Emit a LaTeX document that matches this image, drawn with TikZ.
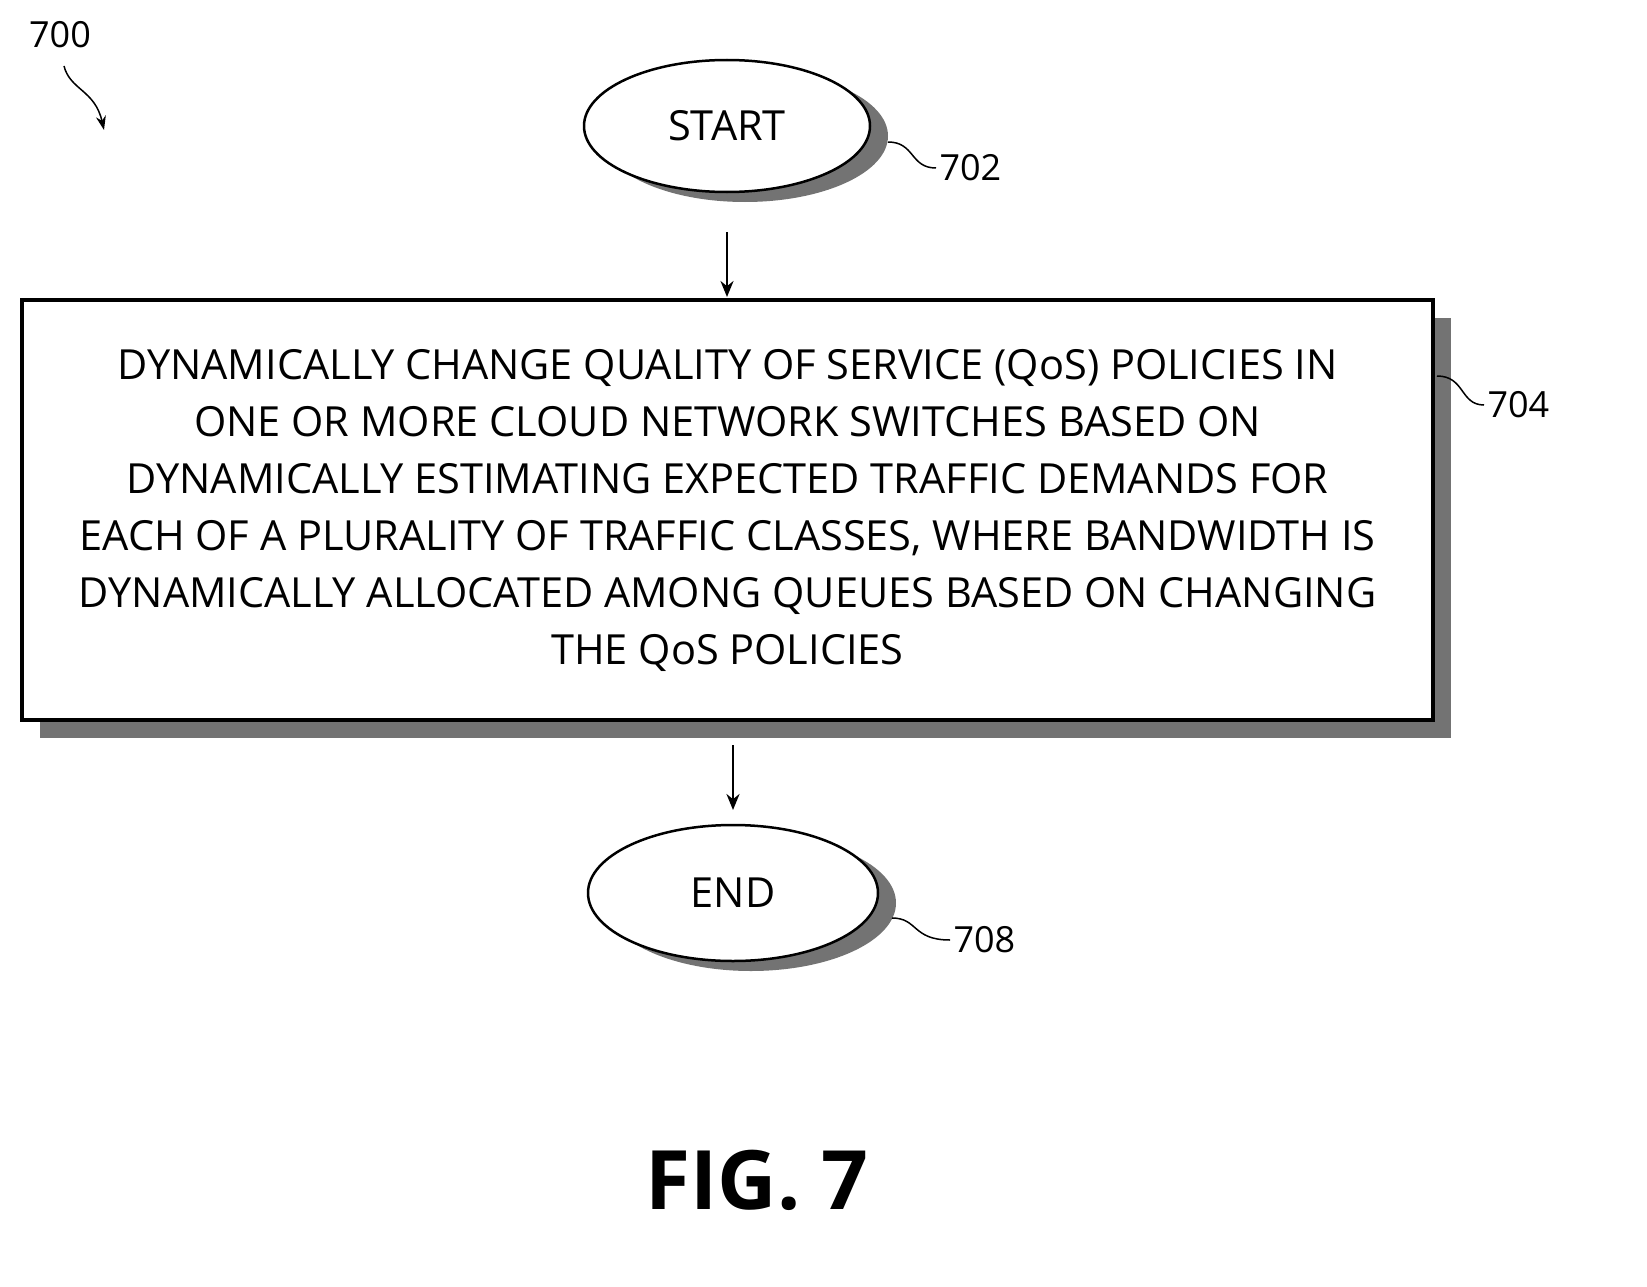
\documentclass[tikz,border=0pt]{standalone}
\usepackage{fontspec}
\setmainfont{Open Sans}
\usetikzlibrary{shapes.geometric,arrows.meta}
\begin{document}
\begin{tikzpicture}[x=1pt,y=-1pt,
  lbl/.style={font=\fontsize{36}{40}\selectfont},
  main/.style={font=\fontsize{41.5}{57}\selectfont},
  conn/.style={line width=2.5pt,-{Stealth[length=16pt,width=13pt]}},
  lead/.style={line width=1.5pt},
  shadow/.style={fill=black!55,draw=none}]
\useasboundingbox (0,0) rectangle (1647,1287);
% START
\fill[shadow] (745,136) ellipse [x radius=143,y radius=66];
\node[ellipse,draw,line width=2.5pt,fill=white,minimum width=286pt,minimum height=132pt,main] (start) at (727,126) {START};
% box
\fill[shadow] (40,318) rectangle (1451,738);
\node[draw,line width=3.5pt,fill=white,minimum width=1411pt,minimum height=420pt,align=center,main] (box) at (727.5,510) {DYNAMICALLY CHANGE QUALITY OF SERVICE (QoS) POLICIES IN\\ONE OR MORE CLOUD NETWORK SWITCHES BASED ON\\DYNAMICALLY ESTIMATING EXPECTED TRAFFIC DEMANDS FOR\\EACH OF A PLURALITY OF TRAFFIC CLASSES, WHERE BANDWIDTH IS\\DYNAMICALLY ALLOCATED AMONG QUEUES BASED ON CHANGING\\THE QoS POLICIES};
% END
\fill[shadow] (751,903) ellipse [x radius=145,y radius=68];
\node[ellipse,draw,line width=2.5pt,fill=white,minimum width=290pt,minimum height=136pt,main] (end) at (733,893) {END};
% connectors
\coordinate (a1) at (727,232); \coordinate (a2) at (727,297);
\draw[conn] (a1) -- (a2);
\coordinate (b1) at (733,745); \coordinate (b2) at (733,810);
\draw[conn] (b1) -- (b2);
% labels
\node[lbl,anchor=west] (l702) at (936,168) {702};
\coordinate (s702) at (888,142);
\draw[lead] (s702) .. controls (915,142) and (910,168) .. (l702.west);
\node[lbl,anchor=west] (l704) at (1484,405) {704};
\coordinate (s704) at (1437,376);
\draw[lead] (s704) .. controls (1465,376) and (1460,405) .. (l704.west);
\node[lbl,anchor=west] (l708) at (950,940) {708};
\coordinate (s708) at (892,918);
\draw[lead] (s708) .. controls (918,918) and (912,940) .. (l708.west);
\node[lbl] (l700) at (60,35) {700};
\coordinate (t700) at (104,130);
\draw[lead,-{Stealth[length=14pt,width=10pt]}] (64,66) .. controls (70,90) and (95,90) .. (t700);
\node[font=\bfseries\fontsize{82}{90}\selectfont] (fig) at (757,1180) {FIG. 7};
\end{tikzpicture}
\end{document}
